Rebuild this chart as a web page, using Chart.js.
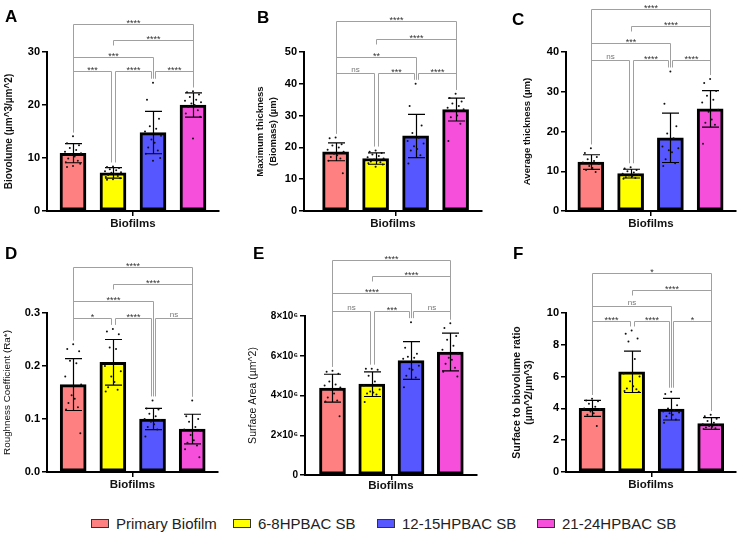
<!DOCTYPE html>
<html><head><meta charset="utf-8">
<script src="https://cdn.jsdelivr.net/npm/chart.js@4/dist/chart.umd.min.js"></script>
<style>
html,body{margin:0;padding:0;background:#fff;}
body{width:740px;height:533px;position:relative;overflow:hidden;font-family:"Liberation Sans",Arial,sans-serif;}
canvas{position:absolute;}
.lt{position:absolute;font-weight:bold;font-size:17px;line-height:17px;color:#000;}
.lg{position:absolute;top:514px;height:18px;display:flex;align-items:center;font-size:15px;color:#222;white-space:nowrap;}
.sw{width:16px;height:7px;border:1.5px solid #333;margin-right:7px;}
</style></head>
<body>
<canvas id="cA" width="245" height="235" style="left:0;top:0;width:245px;height:235px"></canvas>
<canvas id="cB" width="250" height="235" style="left:245px;top:0;width:250px;height:235px"></canvas>
<canvas id="cC" width="245" height="235" style="left:495px;top:0;width:245px;height:235px"></canvas>
<canvas id="cD" width="245" height="265" style="left:0;top:235px;width:245px;height:265px"></canvas>
<canvas id="cE" width="250" height="265" style="left:245px;top:235px;width:250px;height:265px"></canvas>
<canvas id="cF" width="245" height="265" style="left:495px;top:235px;width:245px;height:265px"></canvas>
<div class="lt" style="left:5px;top:8px">A</div>
<div class="lt" style="left:257px;top:9px">B</div>
<div class="lt" style="left:512px;top:11px">C</div>
<div class="lt" style="left:5px;top:245px">D</div>
<div class="lt" style="left:253px;top:245px">E</div>
<div class="lt" style="left:513px;top:245px">F</div>
<div id="legend"></div>
<script>
// ---------- categories & colours ----------
const GROUPS = ['Primary Biofilm', '6-8HPBAC SB', '12-15HPBAC SB', '21-24HPBAC SB'];
const X_TITLE = 'Biofilms';
const COLORS = ['#FF8080', '#FFFF00', '#5757FF', '#F54FDB'];
const PAIRS = [[0,1],[1,2],[2,3],[0,2],[1,3],[0,3]];
const LEVEL_OF = [0,0,0,1,2,3];

// ---------- A: Biovolume ----------
const A_MEAN = [10.9, 7.2, 14.8, 20.0];
const A_SD = [1.8, 1.0, 4.0, 2.3];
const A_PTS = [
  [14.1, 12.8, 12.4, 11.9, 11.5, 11.2, 10.9, 10.6, 10.3, 9.9, 9.5, 9.2, 8.9, 8.5, 8.3],
  [8.4, 8.3, 8.1, 7.9, 7.7, 7.5, 7.3, 7.2, 7.0, 6.8, 6.6, 6.4, 6.2, 6.0, 5.9],
  [24.2, 21.0, 17.4, 16.0, 15.5, 15.0, 14.2, 13.5, 12.9, 12.0, 11.4, 10.8, 10.0, 9.5],
  [22.6, 22.4, 22.0, 21.5, 21.0, 20.8, 20.5, 20.3, 20.0, 19.6, 19.0, 18.4, 17.8, 13.7]
];
const A_TICKS = [0, 10, 20, 30];
const A_TICK_LABELS = ['0', '10', '20', '30'];
const A_SIG = ['***', '****', '****', '***', '****', '****'];

// ---------- B: Maximum thickness ----------
const B_MEAN = [18.6, 16.5, 23.6, 31.9];
const B_SD = [2.8, 1.8, 6.8, 3.6];
const B_PTS = [
  [23.1, 22.9, 21.0, 20.6, 20.0, 19.3, 18.6, 18.0, 17.5, 17.0, 16.5, 15.8, 11.9],
  [19.0, 18.6, 18.2, 17.8, 17.3, 16.9, 16.5, 16.2, 15.9, 15.6, 15.3, 15.0, 14.6, 13.9],
  [40.0, 33.0, 26.9, 24.5, 23.0, 22.0, 21.2, 20.4, 19.5, 19.0, 17.5, 14.9],
  [36.9, 35.5, 34.4, 33.8, 33.0, 32.5, 32.0, 31.5, 30.0, 29.5, 27.4, 22.0]
];
const B_TICKS = [0, 10, 20, 30, 40, 50];
const B_TICK_LABELS = ['0', '10', '20', '30', '40', '50'];
const B_SIG = ['ns', '***', '****', '**', '****', '****'];

// ---------- C: Average thickness ----------
const C_MEAN = [12.3, 9.4, 18.4, 25.7];
const C_SD = [1.85, 1.1, 6.2, 4.6];
const C_PTS = [
  [15.8, 14.6, 13.6, 13.0, 12.6, 12.2, 11.8, 11.3, 10.8, 10.3, 9.8],
  [11.0, 10.7, 10.3, 10.0, 9.7, 9.4, 9.1, 8.9, 8.7, 8.5, 8.3, 8.1],
  [35.1, 27.0, 21.3, 19.5, 18.3, 16.2, 15.8, 15.3, 14.8, 13.0, 12.0, 11.3],
  [33.2, 32.2, 30.2, 29.0, 28.0, 27.3, 25.5, 25.0, 23.0, 22.2, 21.7, 16.9]
];
const C_TICKS = [0, 10, 20, 30, 40];
const C_TICK_LABELS = ['0', '10', '20', '30', '40'];
const C_SIG = ['ns', '****', '****', '***', '****', '****'];

// ---------- D: Roughness coefficient ----------
const D_MEAN = [0.165, 0.207, 0.100, 0.081];
const D_SD = [0.049, 0.043, 0.020, 0.028];
const D_PTS = [
  [0.241, 0.232, 0.228, 0.210, 0.205, 0.180, 0.165, 0.145, 0.138, 0.130, 0.122, 0.118, 0.073],
  [0.270, 0.265, 0.260, 0.235, 0.232, 0.200, 0.190, 0.180, 0.170, 0.160, 0.155, 0.152],
  [0.135, 0.120, 0.118, 0.110, 0.105, 0.100, 0.098, 0.095, 0.090, 0.085, 0.080, 0.067],
  [0.135, 0.105, 0.100, 0.095, 0.085, 0.080, 0.078, 0.070, 0.060, 0.055, 0.050, 0.043, 0.028]
];
const D_TICKS = [0, 0.1, 0.2, 0.3];
const D_TICK_LABELS = ['0.0', '0.1', '0.2', '0.3'];
const D_SIG = ['*', '****', 'ns', '****', '****', '****'];

// ---------- E: Surface area ----------
const E_MEAN = [4.37e6, 4.57e6, 5.76e6, 6.19e6];
const E_SD = [0.70e6, 0.62e6, 0.95e6, 0.95e6];
const E_PTS = [
  [5.25e6, 5.2e6, 5.1e6, 4.7e6, 4.55e6, 4.5e6, 4.4e6, 4.3e6, 4.1e6, 3.9e6, 3.75e6, 3.7e6, 2.95e6],
  [5.35e6, 5.35e6, 5.3e6, 5.0e6, 4.7e6, 4.5e6, 4.3e6, 4.2e6, 4.15e6, 4.1e6, 4.05e6, 3.67e6],
  [7.69e6, 6.4e6, 6.1e6, 5.95e6, 5.9e6, 5.85e6, 5.5e6, 5.35e6, 5.3e6, 5.0e6, 4.9e6, 4.41e6],
  [7.63e6, 7.4e6, 7.0e6, 6.8e6, 6.5e6, 6.3e6, 6.1e6, 5.9e6, 5.8e6, 5.6e6, 5.4e6, 5.2e6, 4.96e6]
];
const E_TICKS = [0, 2e6, 4e6, 6e6, 8e6];
const E_TICK_LABELS = ['0', '2×10⁶', '4×10⁶', '6×10⁶', '8×10⁶'];
const E_SIG = ['ns', '***', 'ns', '****', '****', '****'];

// ---------- F: Surface to biovolume ratio ----------
const F_MEAN = [4.0, 6.3, 3.95, 3.05];
const F_SD = [0.5, 1.3, 0.68, 0.37];
const F_PTS = [
  [4.6, 4.5, 4.45, 4.3, 4.1, 4.0, 3.95, 3.8, 3.7, 3.6, 2.9],
  [8.9, 8.7, 8.4, 8.2, 7.1, 6.2, 6.0, 5.7, 5.4, 5.25, 5.2, 5.1, 5.05],
  [5.05, 4.9, 4.2, 4.0, 3.9, 3.8, 3.75, 3.7, 3.6, 3.5, 3.3, 3.1],
  [3.6, 3.5, 3.35, 3.2, 3.1, 3.0, 2.95, 2.9, 2.85, 2.8, 2.75, 2.7]
];
const F_TICKS = [0, 2, 4, 6, 8, 10];
const F_TICK_LABELS = ['0', '2', '4', '6', '8', '10'];
const F_SIG = ['****', '****', '*', 'ns', '****', '*'];

// ---------- layout (positions/styles only) ----------
const FONT = '"Liberation Sans", Arial, sans-serif';
const JIT = [0, -0.15, 0.15, -0.08, 0.08, -0.2, 0.2, -0.04, 0.04, -0.12, 0.12, -0.18, 0.18];

const PANELS = [
  {id:'cA', mean:A_MEAN, sd:A_SD, pts:A_PTS, ticks:A_TICKS, labels:A_TICK_LABELS, sig:A_SIG,
   title:'Biovolume (µm^3/µm^2)', tFont:{size:10, weight:'bold', lineHeight:1.2}, tPad:3,
   ymax:30, levels:[26.4, 29.1, 32.2, 35.2], xmin:-0.65, xmax:3.65, yW:47, padTop:52, padRight:26, xH:24, xTPad:4, tickFont:11},
  {id:'cB', mean:B_MEAN, sd:B_SD, pts:B_PTS, ticks:B_TICKS, labels:B_TICK_LABELS, sig:B_SIG,
   title:['Maximum thickness', '(Biomass) (µm)'], tFont:{size:9.5, weight:'bold', lineHeight:1.37}, tPad:8.5,
   ymax:50, levels:[43.4, 48.4, 54.2, 59.7], xmin:-0.79, xmax:3.66, yW:59, padTop:52, padRight:13, xH:24, xTPad:4, tickFont:11},
  {id:'cC', mean:C_MEAN, sd:C_SD, pts:C_PTS, ticks:C_TICKS, labels:C_TICK_LABELS, sig:C_SIG,
   title:'Average thickness (µm)', tFont:{size:9.6, weight:'bold', lineHeight:1.2}, tPad:27,
   ymax:40, levels:[37.9, 42.3, 46.5, 50.9], xmin:-0.625, xmax:3.65, yW:71, padTop:52, padRight:3, xH:24, xTPad:4, tickFont:11},
  {id:'cD', mean:D_MEAN, sd:D_SD, pts:D_PTS, ticks:D_TICKS, labels:D_TICK_LABELS, sig:D_SIG,
   title:'Roughness Coefficient (Ra*)', tFont:{size:9.9, weight:'normal', lineHeight:1.2}, tPad:1,
   ymax:0.3, levels:[0.291, 0.323, 0.355, 0.386], xmin:-0.66, xmax:3.65, yW:47, padTop:78, padRight:27, xH:28, xTPad:8, tickFont:11},
  {id:'cE', mean:E_MEAN, sd:E_SD, pts:E_PTS, ticks:E_TICKS, labels:E_TICK_LABELS, sig:E_SIG,
   title:'Surface Area (µm^2)', tFont:{size:10.5, weight:'normal', lineHeight:1.2}, tPad:1.7,
   ymax:8e6, levels:[8.25e6, 9.17e6, 10.0e6, 10.83e6], xmin:-0.7, xmax:3.68, yW:60, padTop:81, padRight:18, xH:25, xTPad:7, tickFont:10},
  {id:'cF', mean:F_MEAN, sd:F_SD, pts:F_PTS, ticks:F_TICKS, labels:F_TICK_LABELS, sig:F_SIG,
   title:['Surface to biovolume ratio', '(µm^2/µm^3)'], tFont:{size:10.5, weight:'bold', lineHeight:1.15}, tPad:16,
   ymax:10, levels:[9.5, 10.44, 11.46, 12.5], xmin:-0.66, xmax:3.64, yW:71, padTop:78, padRight:3, xH:28, xTPad:8, tickFont:11}
];

function makePanel(p) {
  const bars = p.mean.map((m, i) => ({x: i, y: m}));
  const pts = [];
  p.pts.forEach((arr, i) => arr.forEach((v, k) => pts.push({x: i + JIT[k % JIT.length], y: v})));

  const errPlugin = {
    id: 'err_' + p.id,
    afterDatasetDraw(chart, args) {
      if (args.index !== 0) return;
      const ctx = chart.ctx, xs = chart.scales.x, ys = chart.scales.y;
      ctx.save();
      ctx.strokeStyle = '#000';
      ctx.lineWidth = 1.2;
      p.mean.forEach((m, i) => {
        const x = Math.round(xs.getPixelForValue(i)) + 0.5;
        const yT = ys.getPixelForValue(m + p.sd[i]);
        const yB = ys.getPixelForValue(m - p.sd[i]);
        ctx.beginPath();
        ctx.moveTo(x, yT); ctx.lineTo(x, yB);
        ctx.moveTo(x - 8.5, yT); ctx.lineTo(x + 8.5, yT);
        ctx.moveTo(x - 8.5, yB); ctx.lineTo(x + 8.5, yB);
        ctx.stroke();
      });
      ctx.restore();
    }
  };

  const sigPlugin = {
    id: 'sig_' + p.id,
    afterDraw(chart) {
      const ctx = chart.ctx, xs = chart.scales.x, ys = chart.scales.y;
      ctx.save();
      ctx.lineWidth = 1;
      ctx.strokeStyle = '#a0a0a0';
      PAIRS.forEach(([a, b], k) => {
        const lvl = LEVEL_OF[k];
        const py = Math.round(ys.getPixelForValue(p.levels[lvl])) + 0.5;
        const legX = (c, side) => {
          let x = xs.getPixelForValue(c);
          if (lvl === 0) {
            const shared = PAIRS.some(([q, r], j) => j !== k && LEVEL_OF[j] === 0 && (q === c || r === c));
            if (shared) x += side * 2;
          }
          return Math.round(x) + 0.5;
        };
        const legBottom = c => {
          const short = PAIRS.some(([q, r], j) => LEVEL_OF[j] < lvl && q < c && c < r);
          if (short) return py + 5;
          const top = Math.max(Math.max(...p.pts[c]), p.mean[c] + p.sd[c]);
          return ys.getPixelForValue(top) - 4;
        };
        const xa = legX(a, 1), xb = legX(b, -1);
        ctx.beginPath();
        ctx.moveTo(xa, legBottom(a)); ctx.lineTo(xa, py); ctx.lineTo(xb, py); ctx.lineTo(xb, legBottom(b));
        ctx.stroke();
        const lab = p.sig[k];
        const star = lab[0] === '*';
        ctx.fillStyle = star ? '#333' : '#777';
        ctx.font = (star ? '9px ' : '8px ') + FONT;
        ctx.textAlign = 'center';
        ctx.textBaseline = 'alphabetic';
        ctx.fillText(lab, (xa + xb) / 2, star ? py + 1 : py - 2);
      });
      ctx.restore();
    }
  };

  return new Chart(document.getElementById(p.id), {
    data: {
      datasets: [
        {type: 'bar', data: bars, backgroundColor: COLORS, borderColor: '#000', borderWidth: 3,
         borderSkipped: false, barThickness: 26, order: 1},
        {type: 'scatter', data: pts, pointRadius: 1.0, pointBackgroundColor: '#111',
         pointBorderWidth: 0, order: 0}
      ]
    },
    options: {
      responsive: false, animation: false, devicePixelRatio: 1,
      layout: {padding: {left: 0, top: p.padTop, right: p.padRight, bottom: 0}},
      plugins: {legend: {display: false}, tooltip: {enabled: false}},
      scales: {
        x: {
          type: 'linear', min: p.xmin, max: p.xmax, offset: false,
          afterBuildTicks: s => { s.ticks = [{value: 1.5}]; },
          afterFit: s => { s.height = p.xH; },
          ticks: {callback: () => '', font: {size: 1}},
          grid: {display: true, drawOnChartArea: false, drawTicks: true, tickLength: 5, color: '#000', lineWidth: 1.5, offset: false},
          border: {display: true, color: '#000', width: 2},
          title: {display: true, text: X_TITLE, color: '#111',
                  font: {family: FONT, size: 11.5, weight: 'bold', lineHeight: 1.2},
                  padding: {top: 0, bottom: p.xTPad}}
        },
        y: {
          type: 'linear', min: 0, max: p.ymax,
          afterBuildTicks: s => { s.ticks = p.ticks.map(v => ({value: v})); },
          afterFit: s => { s.width = p.yW; },
          ticks: {callback: (v, i) => p.labels[i], color: '#000', padding: 2,
                  font: {family: FONT, size: p.tickFont, weight: 'bold'}},
          grid: {display: true, drawOnChartArea: false, drawTicks: true, tickLength: 5, color: '#000', lineWidth: 1.5},
          border: {display: true, color: '#000', width: 2},
          title: {display: true, text: p.title, color: '#111',
                  font: Object.assign({family: FONT}, p.tFont),
                  padding: {top: p.tPad, bottom: 0}}
        }
      }
    },
    plugins: [errPlugin, sigPlugin]
  });
}

PANELS.forEach(makePanel);

// ---------- legend ----------
const LEG_X = [91, 233, 377, 537];
const legend = document.getElementById('legend');
GROUPS.forEach((g, i) => {
  const d = document.createElement('div');
  d.className = 'lg';
  d.style.left = LEG_X[i] + 'px';
  const sw = document.createElement('span');
  sw.className = 'sw';
  sw.style.background = COLORS[i];
  const t = document.createElement('span');
  t.textContent = g;
  d.appendChild(sw); d.appendChild(t);
  legend.appendChild(d);
});
</script>
</body></html>
